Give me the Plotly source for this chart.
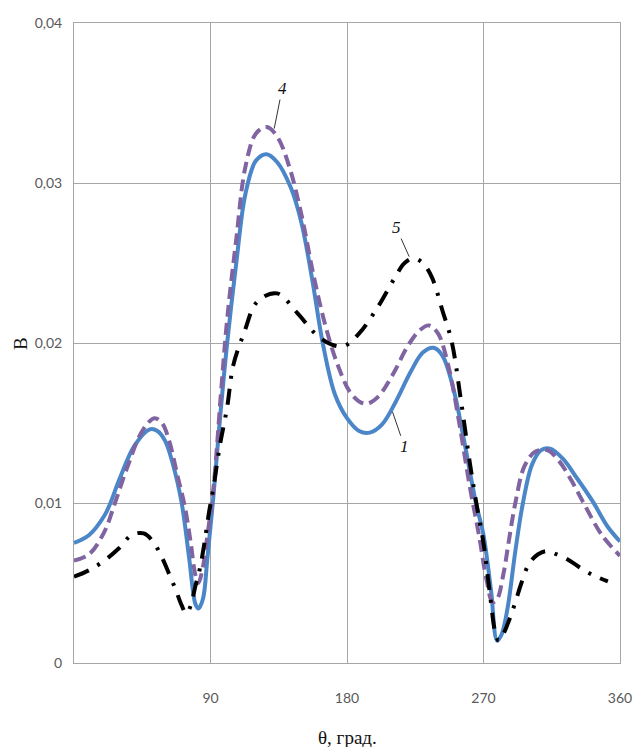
import plotly.graph_objects as go

# ---- data ----
x1 = [0, 10, 20, 24, 30, 40, 50, 55, 60, 65, 71, 76, 80, 82, 85, 88, 92, 96, 101, 107, 113, 120, 127, 134, 143,
      150, 157, 164, 172, 180, 188, 195, 203, 212, 222, 230, 237, 243, 250, 257, 265, 270, 275, 279, 282, 286,
      291, 296, 302, 308, 314, 322, 332, 342, 352, 360]
y1 = [0.0075, 0.0080, 0.0092, 0.0100, 0.0115, 0.0136, 0.0146, 0.0145, 0.0139, 0.0125, 0.0100, 0.0065, 0.0037,
      0.0034, 0.0040, 0.0066, 0.0105, 0.0150, 0.0200, 0.0250, 0.0293, 0.0314, 0.0318, 0.0313, 0.0297,
      0.0275, 0.0240, 0.0200, 0.0168, 0.0153, 0.0145, 0.0144, 0.0149, 0.0163, 0.0182, 0.0194, 0.0197, 0.0192,
      0.0172, 0.0140, 0.0100, 0.0080, 0.0045, 0.0014, 0.0018, 0.0035, 0.0070, 0.0100, 0.0124, 0.0133, 0.0134,
      0.0128, 0.0115, 0.0101, 0.0085, 0.0076]

x4 = [0, 10, 20, 27, 35, 45, 53, 58, 63, 68, 73, 77, 80, 82, 85, 88, 92, 97, 101, 107, 113, 120, 127, 134, 142,
      150, 158, 166, 174, 183, 192, 200, 210, 220, 228, 234, 240, 247, 254, 261, 267, 272, 276, 279, 283, 287,
      291, 297, 304, 312, 320, 328, 336, 348, 360]
y4 = [0.0064, 0.0068, 0.0082, 0.0100, 0.0122, 0.0145, 0.0153, 0.0150, 0.0138, 0.0118, 0.0098, 0.0075, 0.0055,
      0.0050, 0.0060, 0.0080, 0.0110, 0.0170, 0.0215, 0.0265, 0.0310, 0.0331, 0.0335, 0.0329, 0.0310,
      0.0280, 0.0242, 0.0210, 0.0186, 0.0168, 0.0162, 0.0166, 0.0180, 0.0198, 0.0208, 0.0211, 0.0206, 0.0185,
      0.0150, 0.0110, 0.0080, 0.0052, 0.0038, 0.0040, 0.0055, 0.0078, 0.0100, 0.0123, 0.0132, 0.0133, 0.0126,
      0.0114, 0.0100, 0.0080, 0.0067]

x5 = [0, 10, 20, 30, 38, 46, 52, 58, 63, 67, 71, 74, 77, 80, 83, 86, 89, 92, 96, 101, 105, 112, 121, 134, 147,
      160, 170, 178, 188, 200, 211, 218, 224, 230, 236, 243, 249, 255, 261, 266, 270, 274, 278, 280, 283, 287,
      291, 295, 300, 306, 312, 318, 325, 333, 342, 352]
y5 = [0.0054, 0.0058, 0.0064, 0.0072, 0.0080, 0.0081, 0.0076, 0.0066, 0.0055, 0.0046, 0.0036, 0.0031, 0.0036,
      0.0048, 0.0059, 0.0075, 0.0094, 0.0110, 0.0135, 0.0160, 0.0186, 0.0206, 0.0226, 0.0231, 0.0219,
      0.0205, 0.0199, 0.0198, 0.0206, 0.0222, 0.0240, 0.0250, 0.0253, 0.0250, 0.0241, 0.0220, 0.0201, 0.0165,
      0.0125, 0.0096, 0.0075, 0.0045, 0.0018, 0.0014, 0.0018, 0.0027, 0.0038, 0.0050, 0.0062, 0.0068, 0.0070,
      0.0068, 0.0065, 0.0060, 0.0055, 0.0051]

x_ticks = [90, 180, 270, 360]
x_tick_text = ["90", "180", "270", "360"]
y_ticks = [0, 0.01, 0.02, 0.03, 0.04]
y_tick_text = ["0", "0,01", "0,02", "0,03", "0,04"]

label_text = ["4", "5", "1"]
label_x = [132, 221, 210]
label_y = [0.0334, 0.0254, 0.0157]
label_ax = [8, -13, 12]
label_ay = [-40, -29, 35]

# ---- figure ----
fig = go.Figure()
fig.add_trace(go.Scatter(x=x1, y=y1, mode="lines", line=dict(color="#4A86C8", width=4, shape="spline"),
                         name="1"))
fig.add_trace(go.Scatter(x=x4, y=y4, mode="lines",
                         line=dict(color="#8064A2", width=4, shape="spline", dash="12px,6px"), name="4"))
fig.add_trace(go.Scatter(x=x5, y=y5, mode="lines",
                         line=dict(color="#000000", width=4, shape="spline", dash="16px,10px,3px,10px"),
                         name="5"))

for t, xx, yy, ax, ay in zip(label_text, label_x, label_y, label_ax, label_ay):
    fig.add_annotation(x=xx, y=yy, text="<i>" + t + "</i>", showarrow=True, arrowhead=0, arrowwidth=1,
                       arrowcolor="#333333", ax=ax, ay=ay,
                       font=dict(family="Liberation Serif", size=17, color="#111111"),
                       xref="x", yref="y")

fig.add_annotation(x=-0.099, y=0.5, xref="paper", yref="paper", text="В", textangle=-90, showarrow=False,
                   xanchor="center", yanchor="middle",
                   font=dict(family="Liberation Serif", size=19, color="#111111"))
fig.add_annotation(x=0.5, y=-0.117, xref="paper", yref="paper", text="θ, град.", showarrow=False,
                   xanchor="center", yanchor="middle",
                   font=dict(family="Liberation Serif", size=19, color="#111111"))

axis_common = dict(showgrid=True, gridcolor="#A6A6A6", gridwidth=1, showline=True, linecolor="#A6A6A6",
                   linewidth=1, mirror=True, zeroline=False, ticks="", automargin=False,
                   tickfont=dict(family="Lato", size=14, color="#595959"))
fig.update_xaxes(range=[0, 360], tickmode="array", tickvals=x_ticks, ticktext=x_tick_text,
                 ticklabelstandoff=22, **axis_common)
fig.update_yaxes(range=[0, 0.04], tickmode="array", tickvals=y_ticks, ticktext=y_tick_text,
                 ticklabelstandoff=8, **axis_common)

# page body has an 8px margin, so margins are reduced by 8 px to keep the plot in place
fig.update_layout(width=625, height=739, margin=dict(l=66, r=13, t=15, b=84), showlegend=False,
                  plot_bgcolor="white", paper_bgcolor="white")

fig.write_html("out.html")
